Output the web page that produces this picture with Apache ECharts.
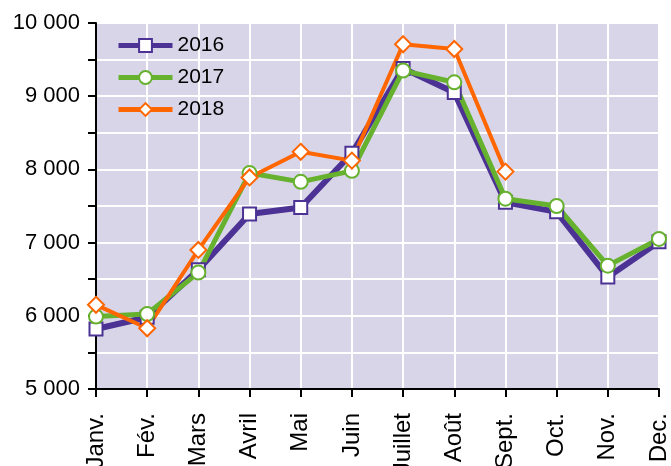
<!DOCTYPE html>
<html>
<head>
<meta charset="utf-8">
<script src="https://cdn.jsdelivr.net/npm/echarts@6/dist/echarts.min.js"></script>
<style>
  html, body { margin: 0; padding: 0; background: #fff; }
  #main { width: 671px; height: 466px; }
</style>
</head>
<body>
<div id="main"></div>
<script>
// months on the x axis
const months = ['Janv.', 'Fév.', 'Mars', 'Avril', 'Mai', 'Juin', 'Juillet', 'Août', 'Sept.', 'Oct.', 'Nov.', 'Dec.']
// values
const values2016 = [5820, 5980, 6630, 7390, 7480, 8220, 9380, 9050, 7550, 7420, 6530, 7010]
const values2017 = [5990, 6025, 6590, 7950, 7830, 7980, 9350, 9190, 7600, 7500, 6685, 7050]
const values2018 = [6150, 5830, 6900, 7890, 8240, 8120, 9710, 9645, 7970, null, null, null]

const fontFamily = 'Liberation Sans, Arial, sans-serif'
const purple = '#4b3294'
const green = '#66b12e'
const orange = '#ff6600'

const chart = echarts.init(document.getElementById('main'))

const option = {
  animation: false,
  textStyle: { fontFamily: fontFamily },
  grid: {
    left: 96,
    right: 12,
    top: 23,
    bottom: 77,
    outerBoundsMode: 'none',
    show: true,
    backgroundColor: '#d9d5e8',
    borderWidth: 0
  },
  legend: {
    orient: 'vertical',
    left: 111,
    top: 30,
    itemWidth: 54,
    itemHeight: 16,
    itemGap: 11,
    textStyle: { fontSize: 21, color: '#000', fontFamily: fontFamily },
    data: [
      { name: '2016', lineStyle: { width: 5 } },
      { name: '2017', lineStyle: { width: 5 } },
      { name: '2018', lineStyle: { width: 5 } }
    ]
  },
  xAxis: {
    type: 'category',
    data: months,
    boundaryGap: false,
    axisLine: { lineStyle: { color: '#000', width: 2 } },
    axisTick: { alignWithLabel: true, length: 8, lineStyle: { color: '#000', width: 2 } },
    axisLabel: { rotate: 90, fontSize: 24, color: '#000', margin: 24, interval: 0 },
    splitLine: { show: true, lineStyle: { color: '#fff', width: 2 } }
  },
  yAxis: {
    type: 'value',
    min: 5000,
    max: 10000,
    interval: 1000,
    axisLine: { show: true, lineStyle: { color: '#000', width: 2 } },
    axisTick: { show: true, length: 8, lineStyle: { color: '#000', width: 2 } },
    minorTick: { show: true, splitNumber: 2, length: 8, lineStyle: { color: '#000', width: 2 } },
    axisLabel: {
      fontSize: 22,
      color: '#000',
      margin: 16,
      formatter: v => String(v).replace(/\B(?=(\d{3})+(?!\d))/g, ' ')
    },
    splitLine: { show: true, lineStyle: { color: '#fff', width: 2 } },
    minorSplitLine: { show: true, lineStyle: { color: '#fff', width: 2 } }
  },
  series: [
    {
      name: '2016',
      type: 'line',
      data: values2016,
      symbol: 'rect',
      symbolSize: 13,
      showAllSymbol: true,
      lineStyle: { color: purple, width: 6 },
      itemStyle: { color: '#fff', borderColor: purple, borderWidth: 2 }
    },
    {
      name: '2017',
      type: 'line',
      data: values2017,
      symbol: 'circle',
      symbolSize: 14,
      showAllSymbol: true,
      lineStyle: { color: green, width: 5 },
      itemStyle: { color: '#fff', borderColor: green, borderWidth: 2 }
    },
    {
      name: '2018',
      type: 'line',
      data: values2018,
      symbol: 'diamond',
      symbolSize: 16,
      showAllSymbol: true,
      lineStyle: { color: orange, width: 4 },
      itemStyle: { color: '#fff', borderColor: orange, borderWidth: 2 }
    }
  ]
}

option && chart.setOption(option)
</script>
</body>
</html>
